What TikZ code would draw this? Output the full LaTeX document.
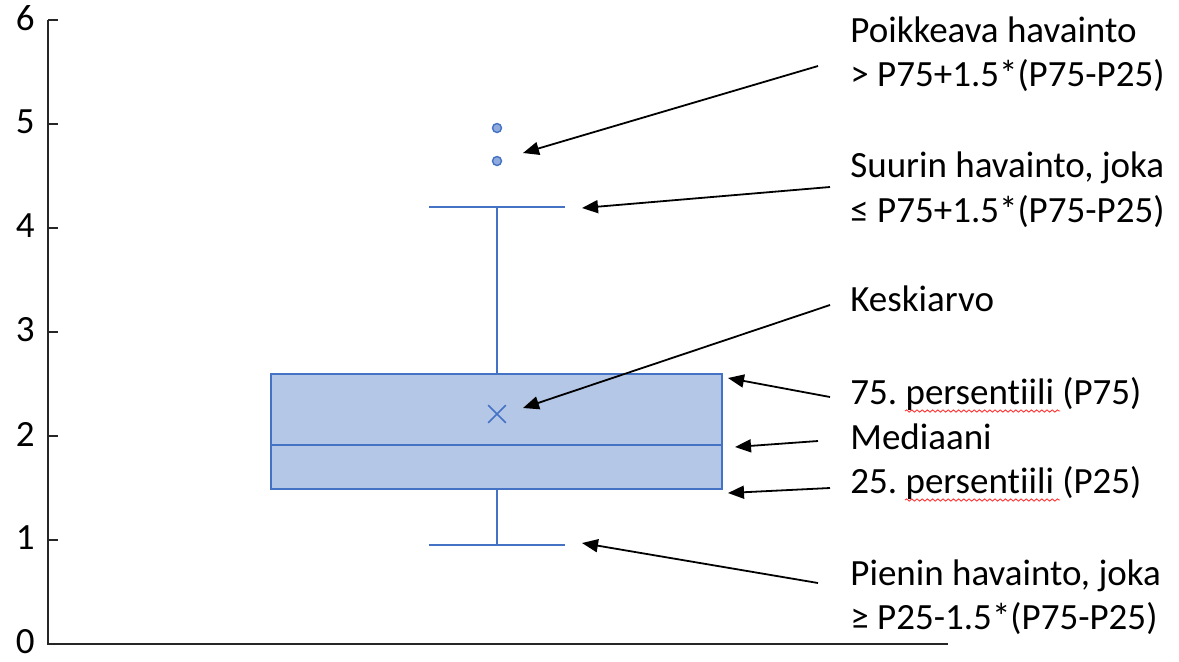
\documentclass[tikz,border=0pt]{standalone}
\usepackage{fontspec}
\setmainfont{Carlito}[Ligatures=NoCommon]
\usepackage{tikz}
\usetikzlibrary{arrows.meta,calc,shapes.misc,decorations.pathmorphing}

\definecolor{boxBlue}{HTML}{4472C4}
\definecolor{boxFill}{HTML}{B4C7E7}
\definecolor{dotFill}{HTML}{8FAADC}
\frenchspacing

\begin{document}
\begin{tikzpicture}[
  x=0.5pt, y=-0.5pt,
  font=\fontsize{18.5}{22.5}\selectfont, >=Triangle,
  lbl/.style={anchor=base west, inner sep=0pt},
  tickLbl/.style={anchor=east, inner sep=0pt},
  axisLn/.style={line width=1.1pt, black!85},
  plotLn/.style={draw=boxBlue, line width=0.9pt},
  dot/.style={circle, draw=boxBlue, fill=dotFill, line width=0.7pt,
              minimum size=4.5pt, inner sep=0pt},
  arr/.style={-{Triangle[length=8pt,width=6.5pt]}, line width=0.9pt},
  spell/.style={draw=red!80, line width=0.45pt, decorate,
                decoration={snake, amplitude=0.55pt, segment length=2.6pt}},
]
\useasboundingbox (0,0) rectangle (1179,661);

% axes
\coordinate (yTop) at (48,20);
\coordinate (orig) at (48,644);
\coordinate (xEnd) at (948,644);
\draw[axisLn] (yTop) -- (orig) -- (xEnd);
\foreach \v in {0,...,6} {
  \draw[axisLn] (48,{644-104*\v}) -- ++(10,0);
  \node[tickLbl] (tick\v) at (35,{642-104*\v}) {\v};
}

% box plot
\path[plotLn, fill=boxFill] (271,374) rectangle (722,489);
\draw[plotLn] (271,445) -- (722,445);
\draw[plotLn] (497,374) -- (497,207);
\draw[plotLn] (429,207) -- (565,207);
\draw[plotLn] (497,489) -- (497,545);
\draw[plotLn] (429,545) -- (565,545);
\node[draw=boxBlue, cross out, line width=0.8pt, minimum size=8pt, inner sep=0pt] (mu) at (497,414) {};
\node[dot] (out1) at (497,128) {};
\node[dot] (out2) at (497,161) {};

% labels
\node[lbl] (outA) at (850,42)  {Poikkeava havainto};
\node[lbl] (outB) at (850,86)  {> P75+1.5*(P75-P25)};
\node[lbl] (maxA) at (850,177) {Suurin havainto, joka};
\node[lbl] (maxB) at (850,222) {≤ P75+1.5*(P75-P25)};
\node[lbl] (mean) at (850,311) {Keskiarvo};
\node[lbl] (p75)  at (850,404) {75. persentiili (P75)};
\node[lbl] (med)  at (850,449) {Mediaani};
\node[lbl] (p25)  at (850,493) {25. persentiili (P25)};
\node[lbl] (minA) at (850,585) {Pienin havainto, joka};
\node[lbl] (minB) at (850,629) {≥ P25-1.5*(P75-P25)};

\draw[spell] ($(p75.base west)+(55,7)$) -- ++(155,0);
\draw[spell] ($(p25.base west)+(55,7)$) -- ++(155,0);

% arrows
\coordinate (tOut)  at (818,66);
\coordinate (tMax)  at (830,187);
\coordinate (tMean) at (830,305);
\coordinate (tP75)  at (830,397);
\coordinate (tMed)  at (818,441);
\coordinate (tP25)  at (830,488);
\coordinate (tMin)  at (818,583);
\coordinate (hOut)  at (523,153);
\coordinate (hMax)  at (582,208);
\coordinate (hMean) at (523,408);
\coordinate (hP75)  at (728,378);
\coordinate (hMed)  at (735,447);
\coordinate (hP25)  at (728,493);
\coordinate (hMin)  at (582,543);

\draw[arr] (tOut)  -- (hOut);
\draw[arr] (tMax)  -- (hMax);
\draw[arr] (tMean) -- (hMean);
\draw[arr] (tP75)  -- (hP75);
\draw[arr] (tMed)  -- (hMed);
\draw[arr] (tP25)  -- (hP25);
\draw[arr] (tMin)  -- (hMin);
\end{tikzpicture}
\end{document}
